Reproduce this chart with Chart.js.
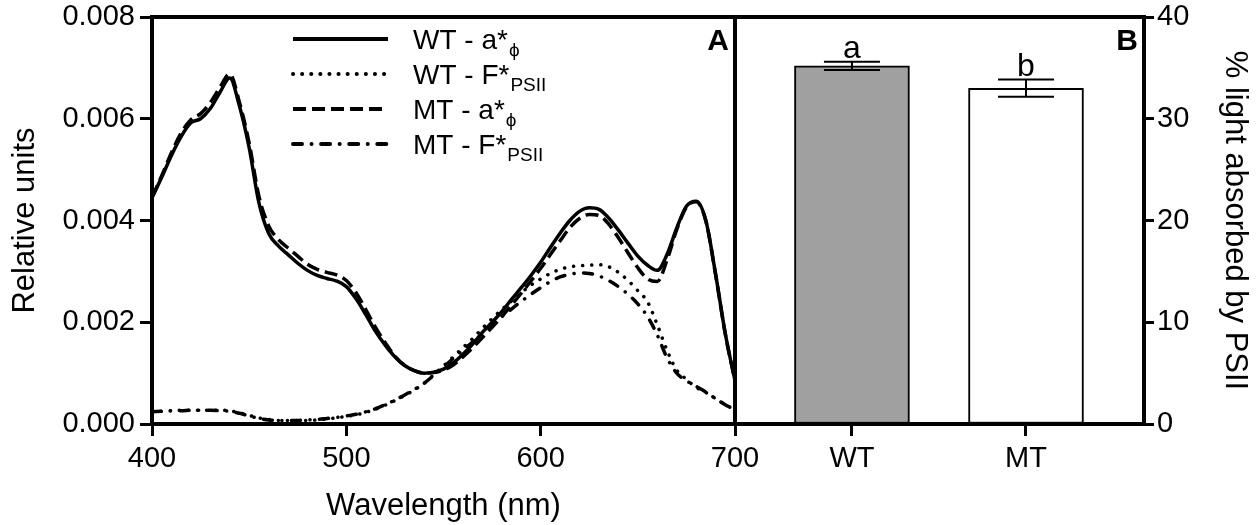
<!DOCTYPE html>
<html>
<head>
<meta charset="utf-8">
<script src="https://cdn.jsdelivr.net/npm/chart.js@4.4.1/dist/chart.umd.min.js"></script>
<style>
  html, body { margin: 0; padding: 0; background: #fff; }
  #wrap { position: relative; width: 1258px; height: 525px; overflow: hidden; }
  canvas { position: absolute; top: 0; }
  #spectra { left: 0; }
  #psii { left: 700px; }
</style>
</head>
<body>
<div id="wrap">
  <canvas id="spectra" width="800" height="525"></canvas>
  <canvas id="psii" width="558" height="525"></canvas>
</div>
<script>
// panel A: spectra
const wavelengths = [400,405,410,415,420,425,430,435,440,445,450,455,460,465,470,475,480,485,490,495,
  500,505,510,515,520,525,530,535,540,545,550,555,560,565,570,575,580,585,590,595,
  600,605,610,615,620,625,630,635,640,645,650,655,660,665,670,675,680,685,690,695,700];

const wtAbs = [0.00445,0.00485,0.00528,0.00565,0.00592,0.00600,0.00620,0.00652,0.00680,0.00625,
  0.00543,0.00435,0.00375,0.00350,0.00333,0.00316,0.00302,0.00292,0.00286,0.00281,
  0.00270,0.00246,0.00215,0.00182,0.00155,0.00132,0.00115,0.00105,0.00100,0.00102,
  0.00108,0.00120,0.00137,0.00157,0.00180,0.00200,0.00221,0.00245,0.00268,0.00292,
  0.00318,0.00347,0.00375,0.00400,0.00418,0.00425,0.00422,0.00405,0.00381,0.00355,
  0.00330,0.00312,0.00302,0.00333,0.00385,0.00428,0.00438,0.00400,0.00295,0.00178,0.00085];

const wtFl = [0.00024,0.00025,0.00026,0.00027,0.00027,0.00027,0.00027,0.00027,0.00026,0.00022,
  0.00017,0.00012,0.00009,0.00007,0.00007,0.00007,0.00007,0.00008,0.00010,0.00012,
  0.00015,0.00018,0.00023,0.00029,0.00037,0.00046,0.00056,0.00067,0.00080,0.00097,
  0.00114,0.00132,0.00150,0.00168,0.00188,0.00207,0.00225,0.00242,0.00258,0.00273,
  0.00285,0.00296,0.00304,0.00309,0.00311,0.00312,0.00313,0.00309,0.00298,0.00282,
  0.00262,0.00240,0.00195,0.00145,0.00106,0.00088,0.00072,0.00062,0.00050,0.00038,0.00028];

const mtAbs = [0.00445,0.00488,0.00533,0.00572,0.00598,0.00610,0.00632,0.00662,0.00688,0.00632,
  0.00552,0.00448,0.00390,0.00363,0.00346,0.00330,0.00314,0.00304,0.00298,0.00293,
  0.00282,0.00258,0.00225,0.00190,0.00160,0.00133,0.00115,0.00105,0.00100,0.00101,
  0.00106,0.00116,0.00132,0.00150,0.00170,0.00190,0.00211,0.00234,0.00257,0.00281,
  0.00306,0.00333,0.00360,0.00386,0.00404,0.00412,0.00410,0.00393,0.00366,0.00336,
  0.00307,0.00285,0.00280,0.00322,0.00382,0.00426,0.00437,0.00399,0.00294,0.00177,0.00085];

const mtFl = [0.00024,0.00025,0.00026,0.00026,0.00027,0.00027,0.00027,0.00026,0.00025,0.00021,
  0.00016,0.00011,0.00008,0.00007,0.00007,0.00007,0.00008,0.00009,0.00011,0.00013,
  0.00016,0.00019,0.00024,0.00030,0.00038,0.00047,0.00057,0.00068,0.00080,0.00096,
  0.00112,0.00129,0.00145,0.00161,0.00178,0.00195,0.00211,0.00226,0.00241,0.00255,
  0.00268,0.00280,0.00289,0.00294,0.00297,0.00296,0.00291,0.00282,0.00270,0.00255,
  0.00236,0.00211,0.00175,0.00130,0.00100,0.00085,0.00074,0.00063,0.00050,0.00038,0.00028];

const seriesNames = ['WT - a*', 'WT - F*', 'MT - a*', 'MT - F*'];
const seriesSubs = ['\u03D5', 'PSII', '\u03D5', 'PSII'];

// panel B: bars
const categories = ['WT', 'MT'];
const absorbed = [35.2, 33.0];
const absorbedErr = [0.4, 0.85];
const sigLetters = ['a', 'b'];

const FONT = "'Liberation Sans', Arial, Helvetica, sans-serif";
Chart.defaults.font.family = FONT;
Chart.defaults.color = '#000';
Chart.defaults.animation = false;

const frame = {
  id: 'frame',
  afterDraw(chart, args, opts) {
    const {ctx, chartArea: a} = chart;
    ctx.save();
    ctx.lineWidth = 4;
    ctx.strokeStyle = '#000';
    ctx.strokeRect(a.left, a.top, a.right - a.left, a.bottom - a.top);
    ctx.font = 'bold 30px ' + FONT;
    ctx.textAlign = 'right';
    ctx.textBaseline = 'alphabetic';
    ctx.fillStyle = '#000';
    ctx.fillText(opts.tag, a.right - 6, a.top + 33);
    ctx.restore();
  }
};

const legendA = {
  id: 'legendA',
  afterDraw(chart) {
    const {ctx} = chart;
    ctx.save();
    chart.data.datasets.forEach((ds, i) => {
      const y = 39 + i * 35;
      ctx.beginPath();
      ctx.setLineDash(ds.borderDash || []);
      ctx.lineCap = ds.borderCapStyle || 'butt';
      ctx.lineWidth = 4;
      ctx.strokeStyle = '#000';
      ctx.moveTo(293, y);
      ctx.lineTo(388, y);
      ctx.stroke();
      ctx.setLineDash([]);
      ctx.fillStyle = '#000';
      ctx.textAlign = 'left';
      ctx.textBaseline = 'alphabetic';
      ctx.font = '28px ' + FONT;
      ctx.fillText(seriesNames[i], 413, y + 10);
      const w = ctx.measureText(seriesNames[i]).width;
      ctx.font = '19px ' + FONT;
      ctx.fillText(seriesSubs[i], 413 + w + 1, y + 17);
    });
    ctx.restore();
  }
};

function line(values, dash, cap) {
  return {
    data: wavelengths.map((w, i) => ({x: w, y: values[i]})),
    borderColor: '#000',
    borderWidth: 3.5,
    borderDash: dash,
    borderCapStyle: cap,
    pointRadius: 0,
    fill: false,
    cubicInterpolationMode: 'monotone'
  };
}

const tickFont = {size: 29};
const titleFont = {size: 31};

new Chart(document.getElementById('spectra'), {
  type: 'line',
  data: {
    datasets: [
      line(wtAbs, [], 'butt'),
      line(wtFl, [0.1, 9], 'round'),
      line(mtAbs, [13, 6], 'butt'),
      line(mtFl, [9, 9.5, 0.1, 9.5], 'round')
    ]
  },
  options: {
    responsive: false,
    layout: {padding: {left: 0, top: 17, right: 65, bottom: 0}},
    plugins: {legend: {display: false}, tooltip: {enabled: false}, frame: {tag: 'A'}},
    scales: {
      x: {
        type: 'linear', min: 400, max: 700,
        border: {display: false},
        grid: {drawOnChartArea: false, tickLength: 12, tickWidth: 3, color: '#000'},
        ticks: {stepSize: 100, font: tickFont, padding: 6, maxRotation: 0},
        title: {display: true, text: 'Wavelength (nm)', font: titleFont, padding: {top: 7, bottom: 0}},
        afterFit(s) { s.height = 101; s.paddingLeft = 0; s.paddingRight = 0; }
      },
      y: {
        min: 0, max: 0.008,
        border: {display: false},
        grid: {drawOnChartArea: false, tickLength: 12, tickWidth: 3, color: '#000'},
        ticks: {stepSize: 0.002, font: tickFont, padding: 5, callback: v => v.toFixed(3)},
        title: {display: true, text: 'Relative units', font: titleFont, padding: {top: 7, bottom: 0}},
        afterFit(s) { s.width = 152; s.paddingTop = 0; s.paddingBottom = 0; }
      }
    }
  },
  plugins: [frame, legendA]
});

const errorBars = {
  id: 'errorBars',
  afterDatasetsDraw(chart) {
    const {ctx} = chart;
    const yScale = chart.scales.y;
    chart.getDatasetMeta(0).data.forEach((bar, i) => {
      const hi = yScale.getPixelForValue(absorbed[i] + absorbedErr[i]);
      const lo = yScale.getPixelForValue(absorbed[i] - absorbedErr[i]);
      ctx.save();
      ctx.strokeStyle = '#000';
      ctx.lineWidth = 2;
      ctx.beginPath();
      ctx.moveTo(bar.x, lo); ctx.lineTo(bar.x, hi);
      ctx.moveTo(bar.x - 28, hi); ctx.lineTo(bar.x + 28, hi);
      ctx.moveTo(bar.x - 28, lo); ctx.lineTo(bar.x + 28, lo);
      ctx.stroke();
      ctx.fillStyle = '#000';
      ctx.font = '32px ' + FONT;
      ctx.textAlign = 'center';
      ctx.textBaseline = 'alphabetic';
      ctx.fillText(sigLetters[i], bar.x, hi - 4);
      ctx.restore();
    });
  }
};

new Chart(document.getElementById('psii'), {
  type: 'bar',
  data: {
    datasets: [{
      data: absorbed.map((v, i) => ({x: i, y: v})),
      backgroundColor: ['#a0a0a0', '#ffffff'],
      borderColor: '#000',
      borderWidth: 2,
      borderSkipped: false,
      barThickness: 115
    }]
  },
  options: {
    responsive: false,
    layout: {padding: {left: 35, top: 17, right: 0, bottom: 0}},
    plugins: {legend: {display: false}, tooltip: {enabled: false}, frame: {tag: 'B'}},
    scales: {
      x: {
        type: 'linear', min: -0.672, max: 1.678,
        offset: false,
        border: {display: false},
        grid: {drawOnChartArea: false, tickLength: 12, tickWidth: 3, color: '#000', offset: false},
        afterBuildTicks(s) { s.ticks = categories.map((c, i) => ({value: i})); },
        ticks: {font: tickFont, padding: 6, maxRotation: 0, callback: v => categories[v]},
        afterFit(s) { s.height = 101; s.paddingLeft = 0; s.paddingRight = 0; }
      },
      y: {
        position: 'right',
        min: 0, max: 40,
        border: {display: false},
        grid: {drawOnChartArea: false, tickLength: 10, tickWidth: 3, color: '#000'},
        ticks: {stepSize: 10, font: tickFont, padding: 3},
        title: {display: true, text: '% light absorbed by PSII', font: titleFont, padding: {top: 5, bottom: 0}},
        afterFit(s) { s.width = 114; s.paddingTop = 0; s.paddingBottom = 0; }
      }
    }
  },
  plugins: [frame, errorBars]
});
</script>
</body>
</html>
